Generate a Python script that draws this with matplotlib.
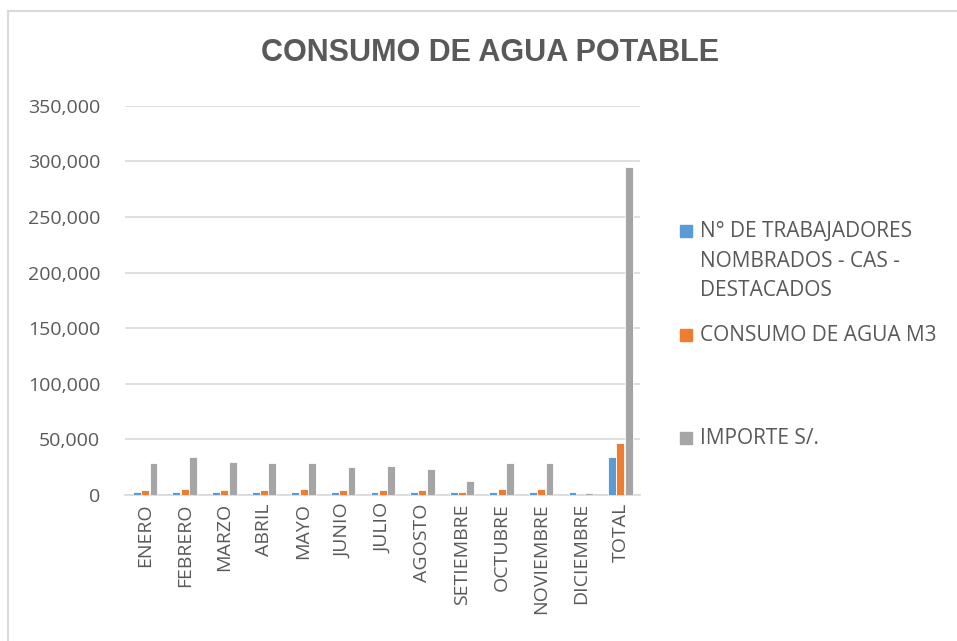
import numpy as np
import matplotlib.pyplot as plt
from matplotlib.lines import Line2D
from matplotlib.ticker import FuncFormatter

plt.rcParams['font.family'] = ['Open Sans', 'DejaVu Sans']

meses = ['ENERO', 'FEBRERO', 'MARZO', 'ABRIL', 'MAYO', 'JUNIO', 'JULIO',
         'AGOSTO', 'SETIEMBRE', 'OCTUBRE', 'NOVIEMBRE', 'DICIEMBRE', 'TOTAL']
trabajadores = [3000, 3000, 3000, 3000, 3000, 3000, 3000, 3000, 3000, 3000, 3000, 3000, 34000]
consumo_m3 = [4700, 5600, 4700, 4700, 5600, 4700, 4700, 4700, 2400, 5600, 5600, 0, 46500]
importe = [28400, 34000, 29600, 28400, 28400, 24900, 26000, 23700, 12400, 28400, 28400, 2000, 295000]

series = [
    ('N° DE TRABAJADORES\nNOMBRADOS - CAS -\nDESTACADOS', trabajadores, '#5b9bd5'),
    ('CONSUMO DE AGUA M3', consumo_m3, '#ed7d31'),
    ('IMPORTE S/.', importe, '#a5a5a5'),
]

txt = '#595959'
fig = plt.figure(figsize=(9.57, 6.41), dpi=100)
ax = fig.add_axes([0.131, 0.228, 0.538, 0.607])

x = np.arange(len(meses))
w = 0.2
for i, (lab, vals, c) in enumerate(series):
    ax.bar(x + (i - 1) * w * 1.05, vals, width=w, color=c, edgecolor='white',
           linewidth=0.6, label=lab, zorder=3)

ax.set_ylim(0, 350000)
ax.set_xlim(-0.5, len(meses) - 0.5)
ax.set_yticks(np.arange(0, 350001, 50000))
ax.yaxis.set_major_formatter(FuncFormatter(lambda v, p: f'{int(v):,}'))
ax.grid(axis='y', color='#d9d9d9', lw=1.2, zorder=0)
for s in ['top', 'right', 'left']:
    ax.spines[s].set_visible(False)
ax.spines['bottom'].set_color('#d9d9d9')
ax.spines['bottom'].set_linewidth(1.2)
ax.tick_params(axis='both', length=0, labelsize=14, colors=txt, pad=6)
ax.tick_params(axis='y', pad=18)
ax.set_xticks(x)
ax.set_xticklabels(meses, rotation=90)

fig.text(0.512, 0.918, 'CONSUMO DE AGUA POTABLE', ha='center', va='center',
         fontsize=22, fontweight='bold', color=txt,
         family=['Liberation Sans', 'DejaVu Sans'])

# leyenda a la derecha, como en Excel
leg_y = [1 - 231 / 641, 1 - 335 / 641, 1 - 438 / 641]
for (lab, vals, c), yy in zip(series, leg_y):
    fig.patches.append(plt.Rectangle((0.711, yy - 0.009), 0.012, 0.018,
                                     transform=fig.transFigure, color=c))
    fig.text(0.731, yy + 0.016, lab, ha='left', va='top', fontsize=15,
             color=txt, linespacing=1.55)

# borde del area del grafico
fig.add_artist(Line2D([8 / 957, 8 / 957], [0, 1 - 11 / 641], color='#d9d9d9', lw=1.5))
fig.add_artist(Line2D([8 / 957, 1], [1 - 11 / 641, 1 - 11 / 641], color='#d9d9d9', lw=1.5))

fig.savefig('out.png', dpi=100)
